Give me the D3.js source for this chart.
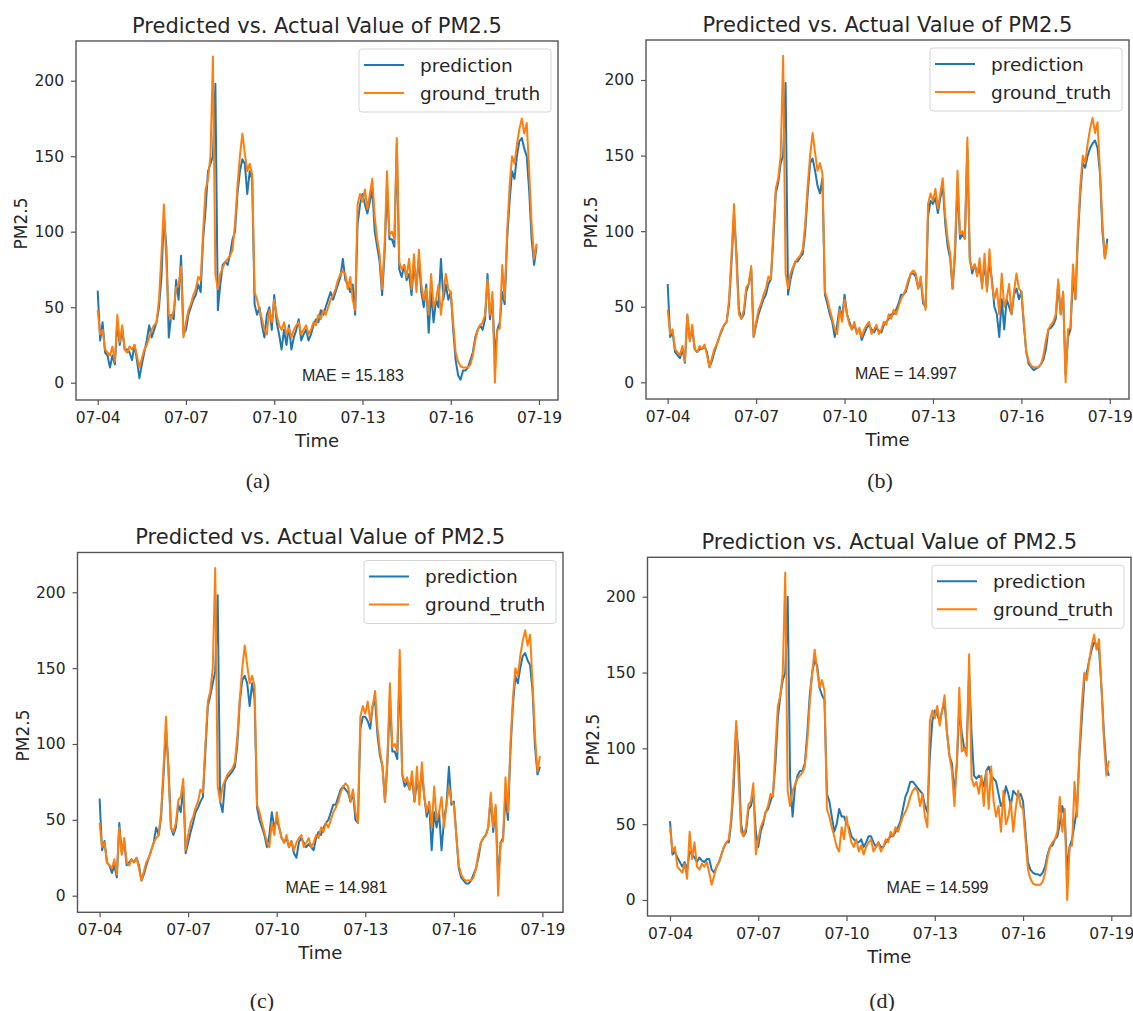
<!DOCTYPE html>
<html>
<head>
<meta charset="UTF-8">
<title>Predicted vs. Actual Value of PM2.5</title>
<script src="https://cdn.jsdelivr.net/npm/d3@7"></script>
<style>
body {margin: 0; background: #fff;}
text {font-family: "DejaVu Sans", sans-serif; fill: #262626;}
.mae {font-family: "Liberation Sans", sans-serif;}
.cap {font-family: "Liberation Serif", serif;}
</style>
</head>
<body>
<div id="chart"></div>
<script>
// hourly data sampled every 2 hours, 07-04 00:00 .. 07-18 22:00
var startTime = "2021-07-04T00";
var stepHours = 2;

var groundTruth = [
  48, 32, 35, 22, 20, 18, 24, 14, 45, 27, 38, 22,       // 07-04
  20, 24, 22, 25, 18, 10, 16, 22, 25, 30, 35, 38,       // 07-05
  40, 55, 85, 118, 80, 45, 42, 48, 63, 65, 77, 30,      // 07-06
  40, 48, 52, 58, 62, 70, 68, 100, 128, 135, 150, 216,  // 07-07
  72, 62, 72, 76, 80, 82, 84, 88, 105, 130, 150, 165,   // 07-08
  152, 140, 145, 138, 60, 55, 48, 42, 35, 32, 48, 40,   // 07-09
  55, 45, 38, 35, 40, 32, 36, 30, 35, 38, 40, 32,       // 07-10
  35, 38, 32, 35, 40, 38, 45, 42, 48, 45, 50, 55,       // 07-11
  58, 62, 68, 72, 74, 72, 62, 70, 55, 48, 118, 125,     // 07-12
  120, 128, 115, 125, 135, 110, 95, 85, 62, 90, 140, 98, // 07-13
  100, 95, 162, 80, 75, 78, 70, 82, 62, 85, 60, 88,     // 07-14
  65, 55, 62, 45, 72, 50, 55, 65, 45, 60, 72, 62,       // 07-15
  60, 40, 20, 14, 11, 10, 10, 10, 12, 18, 28, 35,       // 07-16
  38, 40, 45, 68, 45, 60, 0, 35, 36, 78, 55, 100,       // 07-17
  130, 150, 145, 158, 168, 175, 165, 172, 140, 105, 82, 92 // 07-18
];

var predA = [
  61, 28, 40, 20, 18, 10, 18, 12, 40, 25, 35, 22,
  22, 20, 15, 25, 15, 3, 12, 20, 28, 38, 30, 35,
  40, 50, 70, 110, 90, 30, 45, 42, 68, 55, 84, 32,
  35, 45, 50, 55, 58, 65, 60, 95, 115, 140, 145, 150,
  198, 48, 65, 78, 80, 78, 85, 95, 100, 125, 140, 148,
  145, 125, 140, 135, 52, 45, 50, 38, 30, 45, 50, 35,
  58, 40, 32, 22, 35, 25, 38, 22, 30, 35, 42, 28,
  32, 35, 28, 32, 38, 42, 40, 48, 45, 50, 55, 60,
  55, 60, 65, 70, 82, 68, 65, 60, 65, 45, 105, 118,
  125, 118, 112, 120, 128, 100, 90, 80, 58, 85, 130, 95,
  95, 90, 158, 75, 70, 78, 68, 72, 58, 78, 65, 82,
  60, 50, 65, 33, 60, 40, 55, 50, 82, 55, 65, 55,
  60, 35, 15, 5, 2, 8, 8, 10, 15, 20, 30, 35,
  38, 35, 42, 72, 42, 55, 18, 35, 40, 60, 52, 95,
  120, 140, 135, 150, 160, 162, 155, 150, 127, 95, 78, 90
];

var predB = [
  65, 30, 33, 20, 18, 16, 22, 13, 44, 28, 35, 22,
  20, 22, 22, 24, 20, 10, 14, 20, 25, 30, 34, 38,
  40, 52, 80, 112, 85, 48, 42, 45, 60, 65, 75, 30,
  38, 45, 50, 55, 58, 65, 68, 95, 125, 132, 145, 150,
  198, 58, 68, 75, 80, 80, 83, 85, 100, 125, 145, 148,
  140, 130, 125, 135, 58, 52, 45, 40, 30, 38, 50, 42,
  58, 45, 40, 35, 38, 33, 35, 28, 32, 36, 38, 35,
  33, 36, 34, 33, 38, 40, 42, 45, 45, 48, 52, 58,
  58, 60, 66, 72, 72, 70, 62, 68, 52, 50, 110, 120,
  118, 122, 112, 122, 130, 105, 90, 82, 62, 85, 132, 95,
  98, 95, 155, 82, 72, 78, 72, 75, 65, 78, 62, 80,
  68, 50, 45, 30, 55, 35, 55, 50, 45, 58, 62, 55,
  60, 38, 20, 12, 10, 8, 9, 10, 12, 15, 22, 35,
  36, 38, 42, 65, 45, 58, 5, 30, 35, 70, 55, 95,
  125, 145, 142, 150, 155, 158, 160, 155, 138, 100, 82, 95
];

var predC = [
  64, 30, 36, 22, 20, 15, 20, 12, 48, 28, 36, 20,
  22, 24, 22, 25, 20, 10, 14, 20, 25, 30, 35, 45,
  40, 52, 80, 110, 85, 45, 40, 45, 60, 55, 72, 28,
  35, 42, 48, 55, 58, 62, 65, 95, 125, 132, 140, 148,
  198, 62, 55, 75, 78, 80, 82, 85, 100, 128, 142, 145,
  140, 125, 140, 130, 58, 50, 45, 40, 32, 40, 55, 45,
  50, 45, 38, 35, 38, 32, 36, 28, 25, 35, 38, 35,
  32, 34, 32, 30, 38, 42, 40, 45, 48, 50, 55, 60,
  60, 65, 70, 72, 70, 68, 62, 68, 50, 48, 110, 118,
  118, 115, 110, 125, 128, 105, 92, 85, 62, 88, 130, 95,
  95, 90, 150, 80, 72, 75, 70, 78, 62, 75, 68, 82,
  65, 52, 60, 30, 55, 45, 55, 30, 50, 60, 85, 60,
  62, 40, 18, 12, 10, 8, 8, 10, 14, 18, 25, 35,
  38, 40, 45, 65, 42, 58, 10, 35, 38, 65, 50, 95,
  125, 145, 140, 150, 158, 160, 155, 152, 135, 98, 80, 85
];

var predD = [
  52, 30, 32, 28, 25, 22, 25, 20, 32, 30, 28, 25,
  28, 26, 25, 27, 27, 20, 18, 22, 25, 30, 35, 38,
  38, 52, 75, 115, 95, 50, 42, 45, 60, 62, 70, 45,
  35, 45, 50, 58, 60, 65, 70, 90, 120, 135, 145, 150,
  200, 80, 55, 75, 82, 85, 85, 90, 110, 135, 150, 158,
  155, 140, 135, 132, 70, 65, 55, 45, 50, 60, 55, 55,
  50, 48, 42, 40, 38, 38, 40, 35, 38, 42, 42, 38,
  35, 38, 35, 35, 38, 40, 42, 42, 45, 48, 52, 60,
  68, 72, 78, 78, 76, 74, 72, 70, 62, 58, 95, 118,
  125, 122, 118, 125, 130, 110, 95, 90, 70, 90, 125, 110,
  100, 100, 150, 110, 82, 80, 82, 80, 75, 85, 88, 82,
  80, 78, 70, 62, 65, 75, 70, 62, 72, 70, 68, 70,
  65, 45, 25, 20, 18, 17, 17, 16, 18, 22, 30, 35,
  36, 40, 42, 50, 62, 55, 20, 35, 40, 50, 60, 95,
  120, 145, 150, 158, 165, 170, 168, 165, 140, 110, 88, 82
];

var predictions = [predA, predB, predC, predD];
var titles = ["Predicted vs. Actual Value of PM2.5", "Predicted vs. Actual Value of PM2.5",
              "Predicted vs. Actual Value of PM2.5", "Prediction vs. Actual Value of PM2.5"];
var maeLabels = ["MAE = 15.183", "MAE = 14.997", "MAE = 14.981", "MAE = 14.599"];
var captions = ["(a)", "(b)", "(c)", "(d)"];
var seriesNames = ["prediction", "ground_truth"];
var xTickLabels = ["07-04", "07-07", "07-10", "07-13", "07-16", "07-19"];
var yTicks = [0, 50, 100, 150, 200];

// layout of the four subplots (pixels)
var panels = [
  {left: 76,  right: 558,  top: 41,  bottom: 400, x0: 97.7, x1: 539,  y0: 382.7, y1: 80.7,  maeX: 302, maeY: 375, capX: 258, capY: 480},
  {left: 646, right: 1129, top: 40,  bottom: 399, x0: 667.7, x1: 1109.8, y0: 382.3, y1: 80,  maeX: 855, maeY: 373, capX: 880, capY: 480},
  {left: 77.5, right: 563, top: 552.5, bottom: 912.3, x0: 99.6, x1: 542.4, y0: 895.7, y1: 592.3, maeX: 285.5, maeY: 887, capX: 262, capY: 1000},
  {left: 647.5, right: 1131, top: 557.3, bottom: 916, x0: 670, x1: 1111.3, y0: 900, y1: 596.7, maeX: 886.6, maeY: 887, capX: 882, capY: 1000}
];

var colors = ["#1f77b4", "#ff7f0e"];

var parseTime = d3.timeParse("%Y-%m-%dT%H");
var t0 = parseTime(startTime);
var times = groundTruth.map(function(d, i) { return d3.timeHour.offset(t0, i * stepHours); });
var tickDates = xTickLabels.map(function(s) { return d3.timeParse("%Y-%m-%d")("2021-" + s); });

var svg = d3.select("#chart").append("svg")
  .attr("width", 1133)
  .attr("height", 1011);

panels.forEach(function(p, k) {
  var x = d3.scaleTime()
    .domain([tickDates[0], tickDates[tickDates.length - 1]])
    .range([p.x0, p.x1]);
  var y = d3.scaleLinear()
    .domain([0, 200])
    .range([p.y0, p.y1]);

  var g = svg.append("g");

  g.append("clipPath").attr("id", "clip" + k)
    .append("rect")
    .attr("x", p.left).attr("y", p.top)
    .attr("width", p.right - p.left).attr("height", p.bottom - p.top);

  var line = d3.line()
    .x(function(d, i) { return x(times[i]); })
    .y(function(d) { return y(d); });

  var series = [predictions[k], groundTruth];
  series.forEach(function(s, j) {
    g.append("path")
      .datum(s)
      .attr("clip-path", "url(#clip" + k + ")")
      .attr("d", line)
      .attr("fill", "none")
      .attr("stroke", colors[j])
      .attr("stroke-width", 2)
      .attr("stroke-linejoin", "round");
  });

  // axes
  var xAxis = d3.axisBottom(x)
    .tickValues(tickDates)
    .tickFormat(function(d, i) { return xTickLabels[i]; })
    .tickSize(5).tickPadding(7).tickSizeOuter(0);
  var gx = g.append("g")
    .attr("transform", "translate(0," + p.bottom + ")")
    .call(xAxis);

  var yAxis = d3.axisLeft(y)
    .tickValues(yTicks)
    .tickSize(5).tickPadding(7).tickSizeOuter(0);
  var gy = g.append("g")
    .attr("transform", "translate(" + p.left + ",0)")
    .call(yAxis);

  [gx, gy].forEach(function(a) {
    a.select(".domain").remove();
    a.selectAll(".tick line").attr("stroke", "#555").attr("stroke-width", 1.2);
    a.selectAll(".tick text")
      .style("font-family", "DejaVu Sans, sans-serif")
      .style("font-size", "15.5px")
      .attr("fill", "#262626");
  });

  g.append("rect")
    .attr("x", p.left).attr("y", p.top)
    .attr("width", p.right - p.left).attr("height", p.bottom - p.top)
    .attr("fill", "none")
    .attr("stroke", "#555")
    .attr("stroke-width", 1.4);

  // title and labels
  g.append("text")
    .attr("x", (p.left + p.right) / 2)
    .attr("y", p.top - 8.5)
    .attr("text-anchor", "middle")
    .style("font-size", "21px")
    .text(titles[k]);

  g.append("text")
    .attr("x", (p.left + p.right) / 2)
    .attr("y", p.bottom + 46.5)
    .attr("text-anchor", "middle")
    .style("font-size", "18px")
    .text("Time");

  g.append("text")
    .attr("transform", "translate(" + (p.left - 49) + "," + ((p.top + p.bottom) / 2 + 3) + ") rotate(-90)")
    .attr("text-anchor", "middle")
    .style("font-size", "17px")
    .text("PM2.5");

  g.append("text")
    .attr("class", "mae")
    .attr("x", p.maeX)
    .attr("y", p.maeY + 5.5)
    .style("font-size", "16px")
    .text(maeLabels[k]);

  g.append("text")
    .attr("class", "cap")
    .attr("x", p.capX)
    .attr("y", p.capY + 7.5)
    .attr("text-anchor", "middle")
    .style("font-size", "22px")
    .text(captions[k]);

  // legend
  var lx = p.right - 7 - 192, ly = p.top + 8;
  var leg = g.append("g");
  leg.append("rect")
    .attr("x", lx).attr("y", ly)
    .attr("width", 192).attr("height", 63)
    .attr("rx", 3)
    .attr("fill", "#fff").attr("fill-opacity", 0.85)
    .attr("stroke", "#d5d5d5");
  seriesNames.forEach(function(name, j) {
    var cy = ly + 16 + j * 28;
    leg.append("line")
      .attr("x1", lx + 5).attr("x2", lx + 45)
      .attr("y1", cy).attr("y2", cy)
      .attr("stroke", colors[j]).attr("stroke-width", 2);
    leg.append("text")
      .attr("x", lx + 61).attr("y", cy + 6.5)
      .style("font-size", "18.5px")
      .text(name);
  });
});
</script>
</body>
</html>
